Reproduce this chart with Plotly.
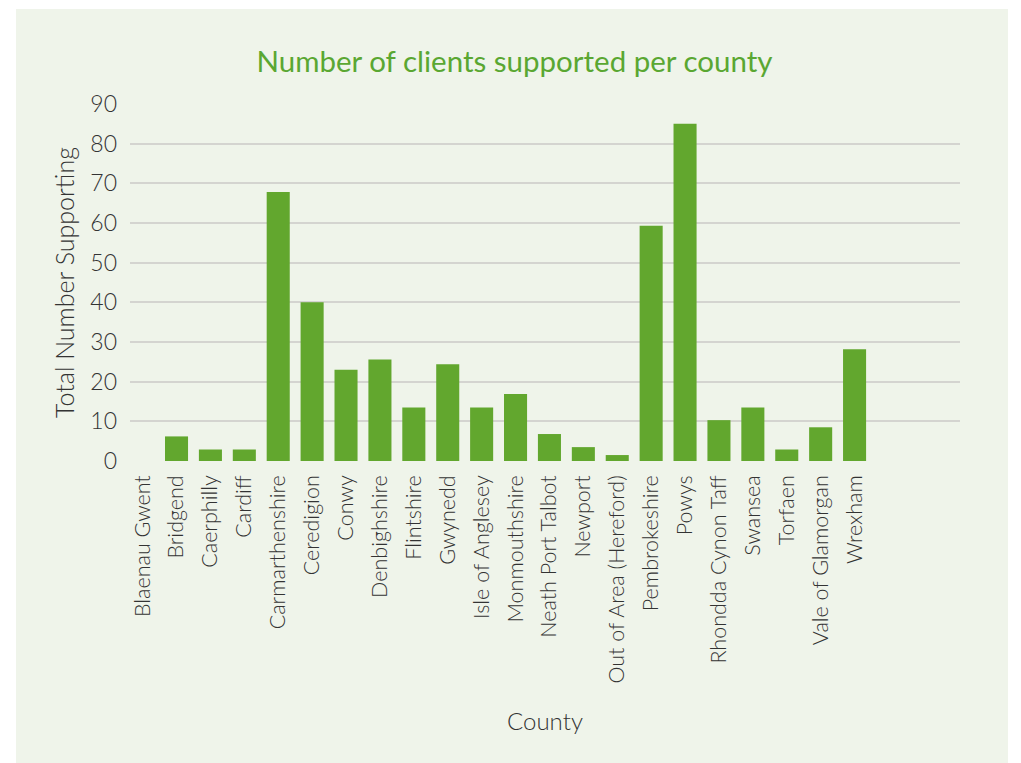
import plotly.graph_objects as go

counties = ["Blaenau Gwent", "Bridgend", "Caerphilly", "Cardiff", "Carmarthenshire",
            "Ceredigion", "Conwy", "Denbighshire", "Flintshire", "Gwynedd",
            "Isle of Anglesey", "Monmouthshire", "Neath Port Talbot", "Newport",
            "Out of Area (Hereford)", "Pembrokeshire", "Powys", "Rhondda Cynon Taff",
            "Swansea", "Torfaen", "Vale of Glamorgan", "Wrexham"]
clients = [0, 6.2, 2.9, 2.9, 67.8, 40, 23, 25.6, 13.5, 24.4, 13.5, 16.9, 6.8,
           3.5, 1.5, 59.3, 85, 10.3, 13.5, 2.9, 8.5, 28.2]
y_ticks = [0, 10, 20, 30, 40, 50, 60, 70, 80, 90]

GREEN_BG = "#eff4ea"
BAR = "#62a72e"
TITLE = "#5aa732"
TXT = "#333333"
FONT = "Lato, Open Sans, sans-serif"

fig = go.Figure(go.Bar(x=counties, y=clients, marker=dict(color=BAR, line=dict(width=0)),
                       width=0.68))

fig.add_shape(type="rect", xref="paper", yref="paper",
              x0=(16 - 130) / 830, x1=(1008 - 130) / 830,
              y0=(461 - 780) / 357, y1=(461 - 9) / 357,
              fillcolor=GREEN_BG, line=dict(width=0), layer="below")

fig.update_layout(
    width=1013, height=755,
    margin=dict(l=122, r=61, t=96, b=302),
    paper_bgcolor="white", plot_bgcolor="rgba(0,0,0,0)",
    font=dict(family=FONT, color=TXT, weight=300),
    title=dict(text="Number of clients supported per county", x=0.5, xref="container",
               xanchor="center", y=1 - 54 / 755, yanchor="middle",
               font=dict(size=29.5, color=TITLE, family=FONT, weight=400)),
    showlegend=False,
)
fig.update_xaxes(
    type="category", range=[-0.372, 24.11], tickangle=-90, ticks="",
    tickfont=dict(size=21.5, color=TXT, weight=300), ticklabelstandoff=9,
    showgrid=False, showline=False, zeroline=False,
    title=dict(text="County", font=dict(size=24, color=TXT, weight=300), standoff=30),
)
fig.update_yaxes(
    range=[0, 90], tickvals=y_ticks, ticks="",
    tickfont=dict(size=23, color=TXT, weight=300), ticklabelstandoff=12,
    showgrid=True, gridcolor="#d4d4d0", gridwidth=1.5,
    showline=False, zeroline=False,
    title=dict(text="Total Number Supporting", font=dict(size=25, color=TXT, weight=300),
               standoff=8),
)

fig.write_html("out.html")
